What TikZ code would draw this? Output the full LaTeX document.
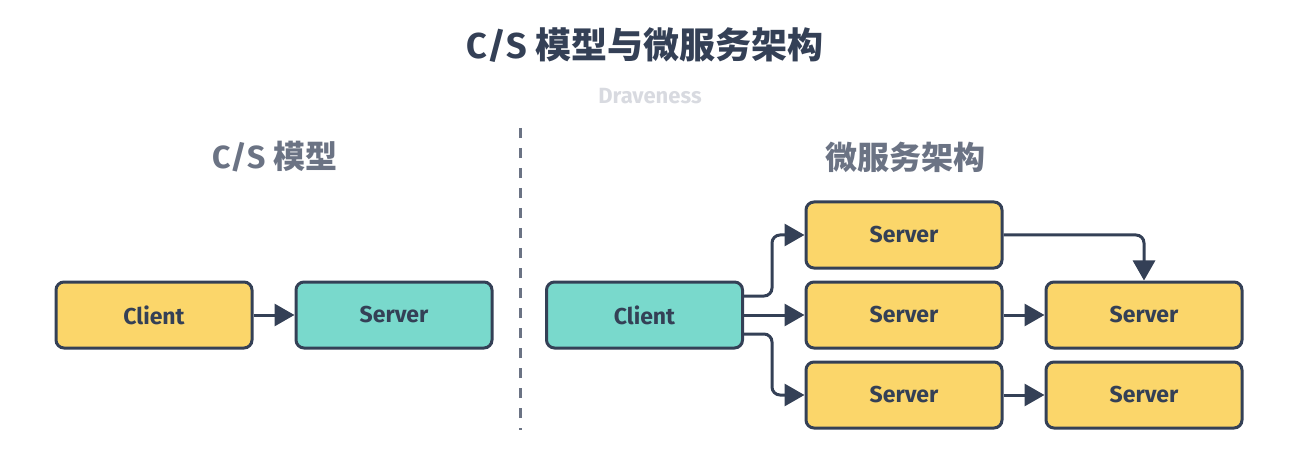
\documentclass[tikz,border=0pt]{standalone}
\usepackage{fontspec}
\setmainfont{Fira Sans}
\newfontfamily\cjk{Noto Sans CJK SC}
\usetikzlibrary{arrows.meta}
\definecolor{ink}{HTML}{344056}
\definecolor{yel}{HTML}{FBD66A}
\definecolor{teal}{HTML}{79D9CC}
\definecolor{sub}{HTML}{6B7384}
\definecolor{faint}{HTML}{D8DAE0}
\tikzset{
  box/.style={draw=ink, line width=3pt, rounded corners=8pt, minimum width=196pt, minimum height=66pt, inner sep=0pt, font=\fontsize{23}{25}\selectfont\bfseries, text=ink},
  ybox/.style={box, fill=yel},
  tbox/.style={box, fill=teal},
  conn/.style={draw=ink, line width=3pt, rounded corners=8pt, -{Triangle[length=20pt,width=22pt]}},
}
\begin{document}
\begin{tikzpicture}[x=1pt,y=-1pt]
\useasboundingbox (0,0) rectangle (1300,470);
\node[font=\fontsize{36}{40}\selectfont\bfseries, text=ink] (title) at (645,45) {C/S {\cjk\bfseries 模型与微服务架构}};
\node[font=\fontsize{22}{24}\selectfont\bfseries, text=faint] (author) at (650,96) {Draveness};
\node[font=\fontsize{32}{36}\selectfont\bfseries, text=sub] (lt) at (275,157) {C/S {\cjk\bfseries 模型}};
\node[font=\fontsize{32}{36}\selectfont\bfseries, text=sub] (rt) at (905,157) {\cjk\bfseries 微服务架构};
\coordinate (d1) at (520,128);
\coordinate (d2) at (520,430);
\draw[sub, line width=3pt, dash pattern=on 10pt off 10pt] (d1) -- (d2);
% left
\node[ybox] (lc) at (154,315) {Client};
\node[tbox] (ls) at (394,315) {Server};
\draw[conn] (lc) -- (ls);
% right
\node[tbox] (rc) at (644.5,315) {Client};
\node[ybox] (s1) at (904,235) {Server};
\node[ybox] (s2) at (904,315) {Server};
\node[ybox] (s3) at (904,395) {Server};
\node[ybox] (s4) at (1144,315) {Server};
\node[ybox] (s5) at (1144,395) {Server};
\draw[conn] ([yshift=19pt]rc.east) -| (772,235) -- (s1.west);
\draw[conn] (rc) -- (s2);
\draw[conn] ([yshift=-19pt]rc.east) -| (772,395) -- (s3.west);
\draw[conn] (s1.east) -| (s4.north);
\draw[conn] (s2) -- (s4);
\draw[conn] (s3) -- (s5);
\end{tikzpicture}
\end{document}
